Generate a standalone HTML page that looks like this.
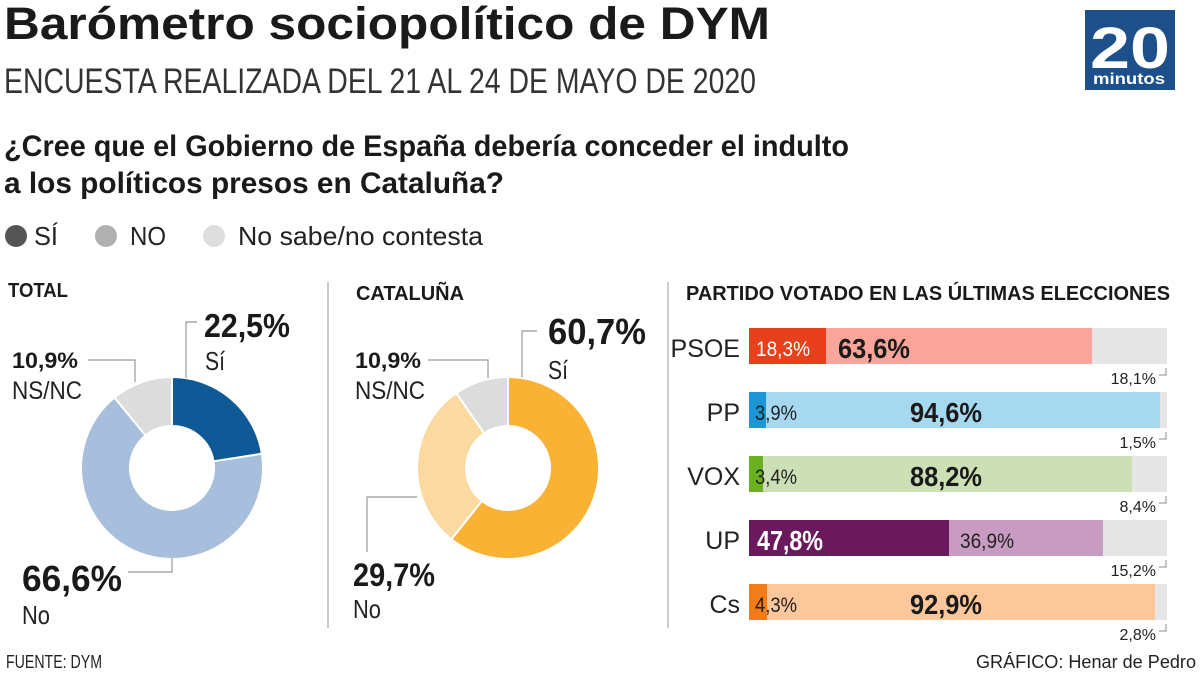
<!DOCTYPE html>
<html><head><meta charset="utf-8"><style>
html,body{margin:0;padding:0;background:#fff;}
svg{display:block;font-family:"Liberation Sans",sans-serif;}
</style></head><body>
<svg width="1200" height="675" viewBox="0 0 1200 675" xmlns="http://www.w3.org/2000/svg">
<rect width="1200" height="675" fill="#fff"/>
<text x="4" y="39" font-size="45" font-weight="bold" fill="#1a1a1a" textLength="766" lengthAdjust="spacingAndGlyphs">Barómetro sociopolítico de DYM</text>
<text x="4" y="93" font-size="35" fill="#333" textLength="752" lengthAdjust="spacingAndGlyphs">ENCUESTA REALIZADA DEL 21 AL 24 DE MAYO DE 2020</text>
<text x="4" y="156" font-size="30" font-weight="bold" fill="#1a1a1a" textLength="845" lengthAdjust="spacingAndGlyphs">¿Cree que el Gobierno de España debería conceder el indulto</text>
<text x="4" y="193" font-size="30" font-weight="bold" fill="#1a1a1a" textLength="500" lengthAdjust="spacingAndGlyphs">a los políticos presos en Cataluña?</text>
<circle cx="16" cy="236" r="11" fill="#555"/>
<text x="34" y="245" font-size="26" fill="#222" textLength="24" lengthAdjust="spacingAndGlyphs">SÍ</text>
<circle cx="106" cy="236" r="11" fill="#b0b0b0"/>
<text x="130" y="245" font-size="26" fill="#222" textLength="36" lengthAdjust="spacingAndGlyphs">NO</text>
<circle cx="214" cy="236" r="11" fill="#dedede"/>
<text x="238" y="245" font-size="26" fill="#222" textLength="245" lengthAdjust="spacingAndGlyphs">No sabe/no contesta</text>
<!-- logo -->
<rect x="1085" y="10" width="90" height="80" fill="#1d4f8a"/>
<text x="1090" y="68" font-size="58" font-weight="bold" fill="#fff" textLength="80" lengthAdjust="spacingAndGlyphs">20</text>
<text x="1093" y="84" font-size="16" font-weight="bold" fill="#fff" textLength="72" lengthAdjust="spacingAndGlyphs">minutos</text>
<!-- section titles -->
<text x="8" y="297" font-size="20" font-weight="bold" fill="#1a1a1a" textLength="60" lengthAdjust="spacingAndGlyphs">TOTAL</text>
<text x="356" y="300" font-size="20" font-weight="bold" fill="#1a1a1a" textLength="108" lengthAdjust="spacingAndGlyphs">CATALUÑA</text>
<text x="686" y="300" font-size="20" font-weight="bold" fill="#1a1a1a" textLength="484" lengthAdjust="spacingAndGlyphs">PARTIDO VOTADO EN LAS ÚLTIMAS ELECCIONES</text>
<line x1="328" y1="282" x2="328" y2="628" stroke="#bbb" stroke-width="1.5"/>
<line x1="668" y1="282" x2="668" y2="628" stroke="#bbb" stroke-width="1.5"/>
<!-- donut total -->
<g stroke="#fff" stroke-width="2">
<path d="M172 377 A91 91 0 0 1 261.9 453.8 L213.5 461.4 A42 42 0 0 0 172 426 Z" fill="#0f5a96"/>
<path d="M261.9 453.8 A91 91 0 1 1 114.5 397.5 L145.5 435.4 A42 42 0 1 0 213.5 461.4 Z" fill="#a7bfdc"/>
<path d="M114.5 397.5 A91 91 0 0 1 172 377 L172 426 A42 42 0 0 0 145.5 435.4 Z" fill="#dcdcdc"/>
</g>
<g fill="none" stroke="#999" stroke-width="1.2">
<polyline points="197,322 186,322 186,378"/>
<polyline points="88,360 135,360 135,382"/>
<polyline points="128,572 172,572 172,558"/>
<polyline points="537,331 522,331 522,378"/>
<polyline points="428,360 488,360 488,380"/>
<polyline points="417,497 367,497 367,552"/>
</g>
<text x="204" y="337" font-size="33" font-weight="bold" fill="#1a1a1a" textLength="86" lengthAdjust="spacingAndGlyphs">22,5%</text>
<text x="205" y="370" font-size="26" fill="#222" textLength="20" lengthAdjust="spacingAndGlyphs">Sí</text>
<text x="12" y="368" font-size="22" font-weight="bold" fill="#1a1a1a" textLength="66" lengthAdjust="spacingAndGlyphs">10,9%</text>
<text x="12" y="399" font-size="25" fill="#222" textLength="70" lengthAdjust="spacingAndGlyphs">NS/NC</text>
<text x="22" y="591" font-size="36" font-weight="bold" fill="#1a1a1a" textLength="100" lengthAdjust="spacingAndGlyphs">66,6%</text>
<text x="22" y="624" font-size="26" fill="#222" textLength="28" lengthAdjust="spacingAndGlyphs">No</text>
<!-- donut cataluna -->
<g stroke="#fff" stroke-width="2">
<path d="M508 377 A91 91 0 1 1 451.4 539.2 L481.9 500.9 A42 42 0 1 0 508 426 Z" fill="#f9b233"/>
<path d="M451.4 539.2 A91 91 0 0 1 456.3 393.1 L484.2 433.4 A42 42 0 0 0 481.9 500.9 Z" fill="#fcd9a0"/>
<path d="M456.3 393.1 A91 91 0 0 1 508 377 L508 426 A42 42 0 0 0 484.2 433.4 Z" fill="#dcdcdc"/>
</g>
<text x="548" y="344" font-size="36" font-weight="bold" fill="#1a1a1a" textLength="98" lengthAdjust="spacingAndGlyphs">60,7%</text>
<text x="548" y="379" font-size="26" fill="#222" textLength="20" lengthAdjust="spacingAndGlyphs">Sí</text>
<text x="355" y="368" font-size="22" font-weight="bold" fill="#1a1a1a" textLength="66" lengthAdjust="spacingAndGlyphs">10,9%</text>
<text x="355" y="399" font-size="25" fill="#222" textLength="70" lengthAdjust="spacingAndGlyphs">NS/NC</text>
<text x="353" y="586" font-size="32" font-weight="bold" fill="#1a1a1a" textLength="82" lengthAdjust="spacingAndGlyphs">29,7%</text>
<text x="353" y="618" font-size="26" fill="#222" textLength="28" lengthAdjust="spacingAndGlyphs">No</text>
<!-- bars -->
<g font-size="25" fill="#222" text-anchor="end">
<text x="740" y="357">PSOE</text><text x="740" y="421">PP</text><text x="740" y="485">VOX</text><text x="740" y="549">UP</text><text x="740" y="613">Cs</text>
</g>
<rect x="749" y="328" width="418" height="36" fill="#e6e6e6"/>
<rect x="749" y="328" width="343" height="36" fill="#f9a59a"/>
<rect x="749" y="328" width="77" height="36" fill="#e8401c"/>
<rect x="749" y="392" width="418" height="36" fill="#e6e6e6"/>
<rect x="749" y="392" width="411" height="36" fill="#a6d8f0"/>
<rect x="749" y="392" width="17" height="36" fill="#1d96d3"/>
<rect x="749" y="456" width="418" height="36" fill="#e6e6e6"/>
<rect x="749" y="456" width="383" height="36" fill="#cddfb5"/>
<rect x="749" y="456" width="14" height="36" fill="#6ab023"/>
<rect x="749" y="520" width="418" height="36" fill="#e6e6e6"/>
<rect x="749" y="520" width="354" height="36" fill="#c79bc2"/>
<rect x="749" y="520" width="200" height="36" fill="#6a1a5c"/>
<rect x="749" y="584" width="418" height="36" fill="#e6e6e6"/>
<rect x="749" y="584" width="406" height="36" fill="#fcc79a"/>
<rect x="749" y="584" width="18" height="36" fill="#f07d1a"/>
<g font-size="21">
<text x="756" y="356" fill="#fff" textLength="54" lengthAdjust="spacingAndGlyphs">18,3%</text>
<text x="838" y="358" font-size="28" font-weight="bold" fill="#1a1a1a" textLength="72" lengthAdjust="spacingAndGlyphs">63,6%</text>
<text x="755" y="420" fill="#222" textLength="42" lengthAdjust="spacingAndGlyphs">3,9%</text>
<text x="910" y="422" font-size="28" font-weight="bold" fill="#1a1a1a" textLength="72" lengthAdjust="spacingAndGlyphs">94,6%</text>
<text x="755" y="484" fill="#222" textLength="42" lengthAdjust="spacingAndGlyphs">3,4%</text>
<text x="910" y="486" font-size="28" font-weight="bold" fill="#1a1a1a" textLength="72" lengthAdjust="spacingAndGlyphs">88,2%</text>
<text x="757" y="550" font-size="28" font-weight="bold" fill="#fff" textLength="66" lengthAdjust="spacingAndGlyphs">47,8%</text>
<text x="960" y="548" fill="#222" textLength="54" lengthAdjust="spacingAndGlyphs">36,9%</text>
<text x="755" y="612" fill="#222" textLength="42" lengthAdjust="spacingAndGlyphs">4,3%</text>
<text x="910" y="614" font-size="28" font-weight="bold" fill="#1a1a1a" textLength="72" lengthAdjust="spacingAndGlyphs">92,9%</text>
</g>
<g font-size="16" fill="#222" text-anchor="end">
<text x="1156" y="384">18,1%</text><text x="1156" y="448">1,5%</text><text x="1156" y="512">8,4%</text><text x="1156" y="576">15,2%</text><text x="1156" y="640">2,8%</text>
</g>
<g fill="none" stroke="#888" stroke-width="1">
<polyline points="1159,375 1166,375 1166,368"/><polyline points="1159,439 1166,439 1166,432"/><polyline points="1159,503 1166,503 1166,496"/><polyline points="1159,567 1166,567 1166,560"/><polyline points="1159,631 1166,631 1166,624"/>
</g>
<text x="6" y="668" font-size="18" fill="#222" textLength="96" lengthAdjust="spacingAndGlyphs">FUENTE: DYM</text>
<text x="976" y="668" font-size="18" fill="#222" textLength="220" lengthAdjust="spacingAndGlyphs">GRÁFICO: Henar de Pedro</text>
</svg>
</body></html>
